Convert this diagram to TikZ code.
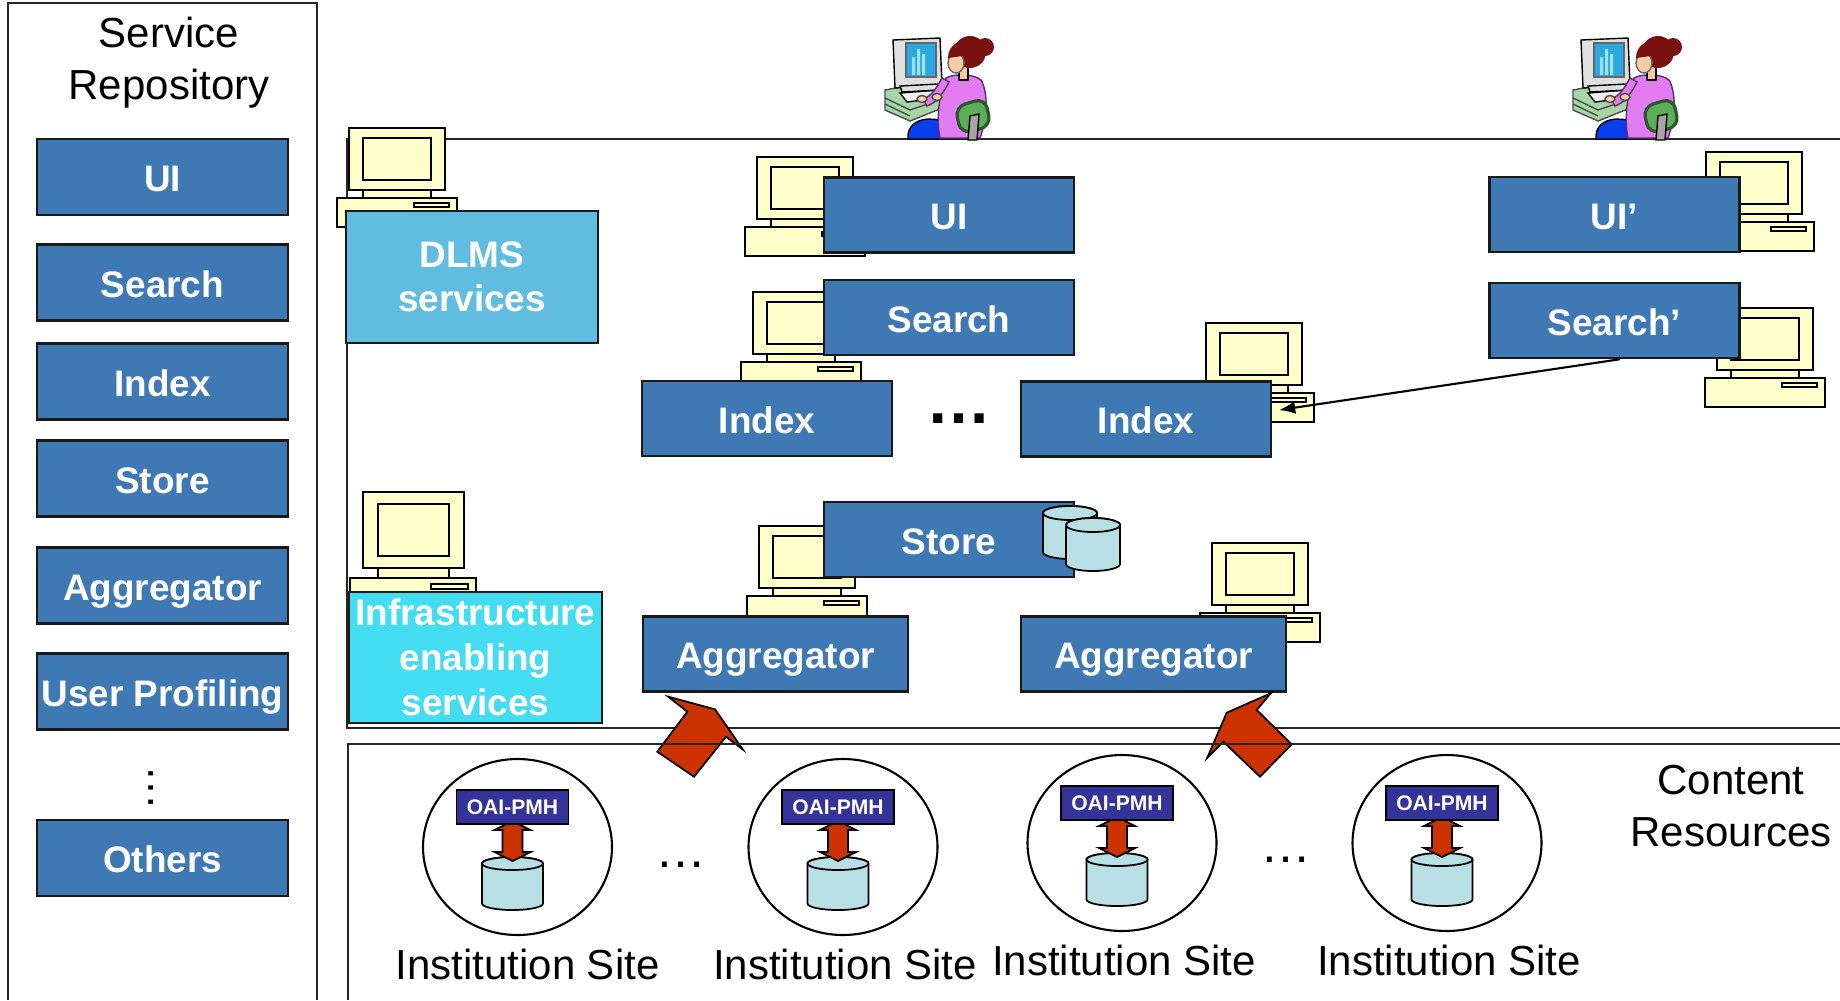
\documentclass[tikz,border=0pt]{standalone}
\usepackage{fontspec}
\setmainfont{Liberation Sans}
\usetikzlibrary{arrows.meta,shapes.geometric}

\definecolor{svcblue}{RGB}{62,121,179}
\definecolor{dlmsblue}{RGB}{97,189,224}
\definecolor{infracyan}{RGB}{68,220,240}
\definecolor{oaiblue}{RGB}{51,51,153}
\definecolor{flowred}{RGB}{204,51,0}
\definecolor{pcyellow}{RGB}{255,255,204}
\definecolor{dbcyan}{RGB}{184,224,228}
\definecolor{deskgreen}{RGB}{166,214,166}
\definecolor{screenblue}{RGB}{41,169,224}
\definecolor{barblue}{RGB}{160,224,248}
\definecolor{blouse}{RGB}{226,124,242}
\definecolor{hairred}{RGB}{122,17,17}
\definecolor{skin}{RGB}{246,203,166}
\definecolor{chairgreen}{RGB}{91,175,91}
\definecolor{jeans}{RGB}{11,62,235}

\tikzset{
  panel/.style={black!85,line width=.6pt},
  boxbase/.style={draw=black!90,line width=.7pt,fill=svcblue,text=white,inner sep=0pt,
    minimum width=25mm,minimum height=7.5mm,font=\bfseries\fontsize{10.5}{12.6}\selectfont},
  svc/.style={boxbase,text height=8.5pt,text depth=0pt},
  repo/.style={svc,minimum width=25.1mm,minimum height=7.6mm},
  layer/.style={boxbase,align=center},
  pcpart/.style={draw=black,line width=.6pt,fill=pcyellow},
  dbpart/.style={draw=black,line width=.5pt,fill=dbcyan},
  bigarrow/.style={draw=black,line width=.5pt,fill=flowred},
  oai/.style={draw=black,line width=.5pt,fill=oaiblue,text=white,inner sep=0pt,
    minimum width=11.2mm,minimum height=3.4mm,font=\bfseries\fontsize{6}{7}\selectfont},
  site/.style={draw,line width=.6pt,ellipse,minimum width=18.9mm,minimum height=17.6mm,inner sep=0pt},
  caption/.style={font=\fontsize{11.95}{14.6}\selectfont,align=center,inner sep=0pt},
  link/.style={-{Latex[length=4.6pt,width=3.6pt]},line width=.6pt},
}

% desktop pc, monitor top left at #2
\newcommand\workstation[2][]{%
\begin{scope}[shift={#2},#1]
\filldraw[pcpart] (-12,70) rectangle (108,99);
\filldraw[pcpart] (65,75) rectangle (100,79);
\filldraw[pcpart] (14,62) rectangle (82,70);
\filldraw[pcpart] (0,0) rectangle (96,62);
\filldraw[pcpart] (14,10) rectangle (82,52);
\end{scope}}

% disk: centre x, top y, bottom y, x radius, y radius
\newcommand\dbcyl[5]{%
\filldraw[dbpart] (#1-#4,#2) -- (#1-#4,#3) arc[start angle=180,end angle=0,x radius=#4,y radius=#5]
  -- (#1+#4,#2) arc[start angle=0,end angle=-180,x radius=#4,y radius=#5] -- cycle;
\filldraw[dbpart] (#1,#2) ellipse[x radius=#4,y radius=#5];}

% woman at her terminal
\newcommand\reader[1]{%
\begin{scope}[shift={#1},line width=.4pt]
\filldraw[fill=deskgreen,draw=black!70] (25,70) -- (72,61) -- (97,68) -- (97,82) -- (50,101) -- (25,90) -- cycle;
\draw[black!70] (25,78) -- (50,90) -- (97,74) (25,84) -- (50,96);
\filldraw[fill=black!12,draw=black] (33,20) -- (80,18) -- (82,65) -- (35,68) -- cycle;
\filldraw[fill=screenblue,draw=black!60] (46,23) rectangle (76,57);
\fill[barblue] (52,37) rectangle (55,55) (57,29) rectangle (60,55) (62,34) rectangle (65,55);
\filldraw[fill=black!12,draw=black] (40,66) -- (78,64) -- (80,70) -- (42,72) -- cycle;
\filldraw[fill=black!6,draw=black] (40,73) -- (80,70) -- (88,77) -- (47,82) -- cycle;
\filldraw[fill=jeans,draw=black] (48,119) .. controls (47,107) and (55,100) .. (68,99) -- (100,101) -- (112,119) -- cycle;
\filldraw[fill=blouse,draw=black!60!blouse] (86,58) .. controls (95,53) and (114,54) .. (121,60)
  .. controls (128,72) and (128,96) .. (120,118) -- (80,118) .. controls (76,100) and (79,74) .. (86,58) -- cycle;
\filldraw[fill=blouse,draw=black!60!blouse] (89,62) .. controls (83,74) and (76,83) .. (67,86)
  -- (63,79) .. controls (72,76) and (77,67) .. (82,58) -- cycle;
\filldraw[fill=skin,draw=black!70] (62,79) ellipse[x radius=5,y radius=3.5] (77,77) ellipse[x radius=5,y radius=3.5];
\filldraw[fill=chairgreen,draw=black!50!chairgreen,line width=.9pt,rounded corners=3pt]
  (95,87) -- (125,78) -- (131,106) -- (101,114) -- cycle;
\filldraw[fill=black!35,draw=black] (110,96) -- (119,94) -- (117,120) -- (108,120) -- cycle;
\filldraw[fill=skin,draw=black] (99,46) rectangle (108,60);
\fill[hairred] (110,32) circle[radius=16];
\fill[hairred] (125,27) circle[radius=9];
\filldraw[fill=skin,draw=black!60] (96,43) ellipse[x radius=8,y radius=10];
\fill[hairred] (88,38) .. controls (88,26) and (98,19) .. (110,21) -- (102,36) -- cycle;
\end{scope}}

% institution site with its OAI-PMH interface
\newcommand\instsite[3]{%
\node[site] (ring#1) at (#2,#3) {};
\dbcyl{#2-5}{#3+16.5}{#3+56.5}{30.5}{6.5}
\filldraw[bigarrow] (#2-5,#3-26) -- (#2+13,#3-17) -- (#2+5,#3-17) -- (#2+5,#3+5) -- (#2+13,#3+5)
  -- (#2-5,#3+14) -- (#2-23,#3+5) -- (#2-15,#3+5) -- (#2-15,#3-17) -- (#2-23,#3-17) -- cycle;
\node[oai] (oai#1) at (#2-5,#3-40) {OAI-PMH};}

\begin{document}
\begin{tikzpicture}[x=.1mm,y=-.1mm]
\useasboundingbox (0,0) rectangle (1840,1000);

% service repository
\draw[panel] (8,1000) -- (8,3) -- (317,3) -- (317,1000);
\node[caption] (repotitle) at (169,62.5) {Service\\Repository};
\node[repo] (rui) at (162.5,177) {UI};
\node[repo] (rsearch) at (162.5,282.5) {Search};
\node[repo] (rindex) at (162.5,381.5) {Index};
\node[repo] (rstore) at (162.5,478.5) {Store};
\node[repo] (raggr) at (162.5,585.5) {Aggregator};
\node[repo] (rprof) at (162.5,691.5) {User Profiling};
\node[rotate=90,inner sep=0pt,font=\fontsize{12.8}{13}\selectfont] (rdots) at (151,788) {…};
\node[repo] (rothers) at (162.5,858) {Others};

% digital library services
\draw[panel] (1840,139) -- (347,139) -- (347,728) -- (1840,728);
\reader{(860,20)}
\reader{(1548,20)}

\workstation{(349,128)}
\workstation[xscale=1.05,yscale=1.226]{(363,492)}
\workstation{(757,157)}
\workstation{(753,292)}
\workstation{(759,526)}
\workstation{(1206,323)}
\workstation{(1212,543)}
\workstation{(1706,152)}
\workstation{(1717,308)}

\node[layer,fill=dlmsblue,minimum width=25.2mm,minimum height=13.2mm] (dlms) at (472,277) {DLMS\\services};
\node[layer,fill=infracyan,minimum width=25.3mm,minimum height=13.1mm,font=\bfseries\fontsize{10.5}{12.8}\selectfont] (infra) at (475.5,657.5) {Infrastructure\\enabling\\services};

\node[svc] (ui) at (949,215) {UI};
\node[svc] (search) at (949,317.5) {Search};
\node[svc] (idxa) at (767,418.5) {Index};
\node[inner sep=0pt,font=\bfseries\fontsize{18.5}{19}\selectfont] (idxdots) at (959,419) {…};
\node[svc] (idxb) at (1146,419) {Index};
\node[svc] (uip) at (1614.5,214.5) {UI’};
\node[svc] (searchp) at (1614.5,320.5) {Search’};
\node[svc] (store) at (949,539.5) {Store};
\dbcyl{1070}{513}{552}{27}{7}
\dbcyl{1093}{525}{564}{27}{7}
\node[svc,minimum width=26.5mm] (aggra) at (775.5,654) {Aggregator};
\node[svc,minimum width=26.5mm] (aggrb) at (1153.5,654) {Aggregator};

\coordinate (idxport) at (1279,410);
\draw[link] ([xshift=.55mm]searchp.south) -- (idxport);

% harvesting
\filldraw[bigarrow] (668.3,696.7) -- (715,709.3) -- (742.7,749.3) -- (726,736.7) -- (694,776.7) -- (657.3,751.7) -- (687.3,711.7) -- cycle;
\filldraw[bigarrow] (1270.7,693.3) -- (1256.7,710) -- (1291.7,744.3) -- (1260,776.7) -- (1223.3,741.7) -- (1207.3,757.7) -- (1226.7,712.7) -- cycle;

% content resources
\draw[panel] (1840,744) -- (348,744) -- (348,1000);
\instsite{1}{517.5}{847}
\instsite{2}{843}{847}
\instsite{3}{1122}{843}
\instsite{4}{1447}{843}
\node[inner sep=0pt,font=\fontsize{14.5}{15}\selectfont] (sdotsa) at (681,865) {…};
\node[inner sep=0pt,font=\fontsize{14.5}{15}\selectfont] (sdotsb) at (1286,860) {…};
\node[caption] (inst1) at (527.5,964.6) {Institution Site};
\node[caption] (inst2) at (845,964.6) {Institution Site};
\node[caption] (inst3) at (1124,960) {Institution Site};
\node[caption] (inst4) at (1449,960) {Institution Site};
\node[caption] (content) at (1731,806) {Content\\Resources};
\end{tikzpicture}
\end{document}
